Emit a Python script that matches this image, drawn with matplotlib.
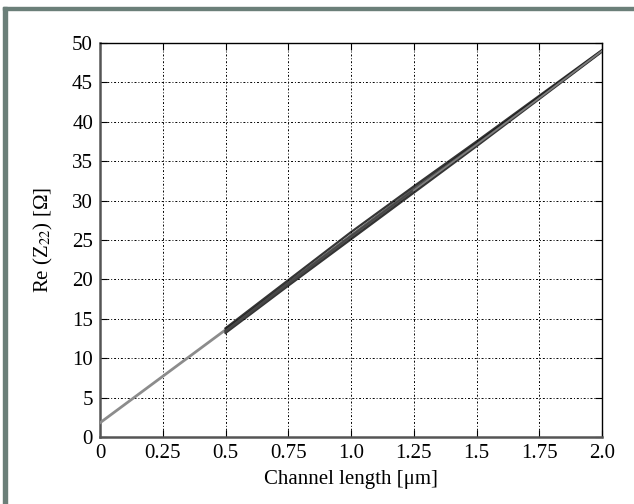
import numpy as np
import matplotlib.pyplot as plt
from matplotlib.patches import Rectangle

# DATOS
largo_ref = [0.0, 0.5, 1.0, 1.5, 2.0]
re_ref = [1.8, 13.6, 25.4, 37.2, 49.0]

largo = [0.5, 0.75, 1.0, 1.25, 1.5, 1.75, 2.0]
curvas = [
    [13.2, 19.2, 25.1, 31.0, 36.9, 42.9, 48.9],
    [13.5, 19.6, 25.6, 31.5, 37.3, 43.1, 49.0],
    [13.8, 19.9, 26.0, 31.8, 37.5, 43.3, 49.1],
    [13.4, 19.4, 25.4, 31.3, 37.1, 43.0, 49.0],
]
xticks = [0, 0.25, 0.5, 0.75, 1.0, 1.25, 1.5, 1.75, 2.0]
xtick_labels = ['0', '0.25', '0.5', '0.75', '1.0', '1.25', '1.5', '1.75', '2.0']
yticks = list(range(0, 51, 5))

plt.rcParams['font.family'] = ['Liberation Serif', 'DejaVu Serif']
plt.rcParams['mathtext.fontset'] = 'stix'

fig = plt.figure(figsize=(6.34, 5.04), dpi=100)
ax = fig.add_axes([100/634, 1 - 437/504, 502/634, 394/504])

# marco de la figura
fig.patches.append(Rectangle((3/634, 0), 4/634, 497/504, transform=fig.transFigure,
                             color='#6b7f79', zorder=0))
fig.patches.append(Rectangle((3/634, 494/504), 631/634, 3/504, transform=fig.transFigure,
                             color='#6b7f79', zorder=0))

# GRAFICO
ax.plot(largo_ref, re_ref, color='#8c8c8c', lw=2.0, zorder=3)
for i, c in enumerate(curvas):
    ax.plot(largo, c, color='#111111' if i % 2 == 0 else '#444444', lw=1.6, alpha=0.85, zorder=4)
ax.plot(largo[3:], curvas[3][3:], color='#8c8c8c', lw=1.2, alpha=0.8, zorder=5)

ax.set_xlim(0, 2.0)
ax.set_ylim(0, 50)
ax.set_xticks(xticks)
ax.set_xticklabels(xtick_labels)
ax.set_yticks(yticks)
ax.grid(True, color='black', lw=0.7, linestyle=(0, (2, 2, 1, 2)))
ax.tick_params(direction='in', length=5, top=True, right=True, labelsize=15, pad=5)
for s in ['left', 'bottom']:
    ax.spines[s].set_color('#555555')
    ax.spines[s].set_linewidth(1.8)
for s in ['top', 'right']:
    ax.spines[s].set_color('black')
    ax.spines[s].set_linewidth(1.0)

ax.set_xlabel('Channel length [μm]', fontsize=15, labelpad=5)
ax.set_ylabel('Re (Z$_{22}$) [Ω]', fontsize=15, labelpad=12)

fig.savefig('out.png', dpi=100)
